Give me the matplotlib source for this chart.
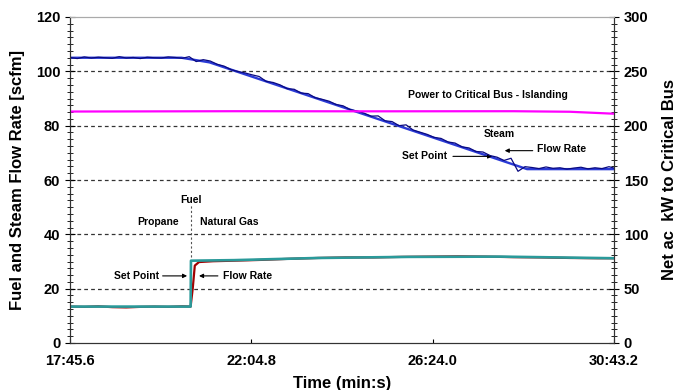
import matplotlib
matplotlib.use("Agg")
import matplotlib.pyplot as plt
from matplotlib.ticker import FixedLocator, MultipleLocator, AutoMinorLocator, FuncFormatter

plt.rcParams['font.family'] = ['Liberation Sans', 'DejaVu Sans']
plt.rcParams['font.weight'] = 'bold'

# time axis in seconds (17:45.6 -> 30:43.2)
t_start = 1065.6
t_end = 1843.2
x_ticks = [1065.6, 1324.8, 1584.0, 1843.2]

# steam flow, measured (scfm), read every 10 s
steam_t = [1066, 1076, 1086, 1096, 1106, 1116, 1126, 1136, 1146, 1156,
           1166, 1176, 1186, 1196, 1206, 1216, 1226, 1236,
           1246, 1256, 1266, 1276, 1286, 1296, 1306, 1316, 1326, 1336,
           1346, 1356, 1366, 1376, 1386, 1396, 1406, 1416, 1426, 1436,
           1446, 1456, 1466, 1476, 1486, 1496, 1506, 1516, 1526, 1536,
           1546, 1556, 1566, 1576, 1586, 1596, 1606, 1616, 1626, 1636,
           1646, 1656, 1666, 1676, 1686, 1696, 1706, 1716,
           1726, 1736, 1746, 1756, 1766, 1776, 1786, 1796, 1806, 1816,
           1826, 1836, 1843]
steam_flow = [105.1, 104.7, 105.3, 104.9, 105.2, 105.0, 104.8, 105.4, 104.9, 105.1,
              104.7, 105.2, 105.0, 104.9, 105.3, 105.1, 104.8, 105.4,
              103.6, 104.3, 103.8, 102.6, 101.9, 100.6, 99.9, 99.4, 98.7, 98.1,
              96.3, 95.9, 95.0, 93.6, 93.4, 92.0, 91.8, 90.3, 89.7, 89.0,
              87.8, 87.3, 85.9, 85.4, 84.6, 83.5, 83.6, 81.8, 81.5, 80.0,
              80.3, 78.4, 77.6, 76.8, 75.7, 75.3, 74.0, 73.6, 72.2, 71.8,
              70.5, 70.3, 69.0, 68.4, 67.2, 68.0, 63.2, 64.9,
              64.6, 64.2, 64.8, 64.3, 64.5, 64.0, 64.4, 64.7, 64.1, 64.5,
              64.2, 64.9, 64.4]

# steam flow set point
steam_sp_t = [1065.6, 1225, 1265, 1719, 1843.2]
steam_sp = [105.0, 105.0, 103.3, 64.0, 64.0]

# fuel flow, measured (scfm)
fuel_t = [1066, 1086, 1106, 1126, 1146, 1166, 1186, 1206, 1226, 1238,
          1241, 1244, 1250, 1270, 1300, 1340, 1380, 1420, 1460, 1500,
          1540, 1580, 1620, 1660, 1700, 1740, 1780, 1820, 1843]
fuel_flow = [13.4, 13.3, 13.5, 13.2, 13.1, 13.3, 13.4, 13.3, 13.5, 13.4,
             20.0, 28.5, 29.8, 30.1, 30.3, 30.6, 31.0, 31.3, 31.5, 31.5,
             31.7, 31.8, 31.9, 31.8, 31.6, 31.5, 31.3, 31.2, 31.2]

# fuel flow set point
fuel_sp_t = [1065.6, 1238, 1238.5, 1300, 1420, 1550, 1680, 1843.2]
fuel_sp = [13.4, 13.4, 30.3, 30.5, 31.3, 31.7, 31.8, 31.2]

# net ac power to critical bus (kW)
power_t = [1065.6, 1300, 1500, 1700, 1780, 1843.2]
power_kw = [213.0, 213.3, 213.2, 213.3, 212.8, 211.0]

fuel_switch = 1238.0


def mmss(t, pos=None):
    m = int(t // 60)
    s = t - 60 * m
    return "%d:%04.1f" % (m, s)


fig = plt.figure(figsize=(6.84, 3.90), dpi=100)
ax = fig.add_axes([70 / 684, 1 - 343 / 390, 544 / 684, 326 / 390])
ax2 = ax.twinx()

ax.set_xlim(t_start, t_end)
ax.set_ylim(0, 120)
ax2.set_ylim(0, 300)

# grid
for g in [20, 40, 60, 80, 100]:
    ax.axhline(g, color='#333333', ls=(0, (3, 2.5)), lw=0.9, zorder=1)
ax.plot([fuel_switch, fuel_switch], [31.5, 51.0], color='#555555',
        ls=(0, (2, 2)), lw=0.8, zorder=1)

ax.plot(steam_sp_t, steam_sp, color='#2a3ad6', lw=1.7, zorder=3)
ax.plot(steam_t, steam_flow, color='#0a0a80', lw=0.9, zorder=4)
ax.plot(fuel_t, fuel_flow, color='#a00000', lw=1.6, zorder=3)
ax.plot(fuel_sp_t, fuel_sp, color='#2a9a9a', lw=1.9, zorder=4)
ax2.plot(power_t, power_kw, color='#ff00ff', lw=1.6)

# axes styling
ax.xaxis.set_major_locator(FixedLocator(x_ticks))
ax.xaxis.set_major_formatter(FuncFormatter(mmss))
ax.yaxis.set_major_locator(MultipleLocator(20))
ax.yaxis.set_minor_locator(AutoMinorLocator(8))
ax2.yaxis.set_major_locator(MultipleLocator(50))
ax2.yaxis.set_minor_locator(AutoMinorLocator(8))

ax.tick_params(axis='x', direction='in', length=3, labelsize=10.5, pad=8)
ax.tick_params(axis='y', which='major', direction='inout', length=7, labelsize=10.5)
ax.tick_params(axis='y', which='minor', direction='inout', length=4)
ax2.tick_params(axis='y', which='major', direction='inout', length=7, labelsize=10.5)
ax2.tick_params(axis='y', which='minor', direction='inout', length=4)
for a in (ax, ax2):
    for lbl in a.get_xticklabels() + a.get_yticklabels():
        lbl.set_fontweight('bold')
    a.spines['top'].set_color('#aaaaaa')
    for side in ['left', 'right', 'bottom']:
        a.spines[side].set_color('#333333')

ax.set_xlabel('Time (min:s)', fontsize=12, fontweight='bold', labelpad=6)
ax.set_ylabel('Fuel and Steam Flow Rate [scfm]', fontsize=12, fontweight='bold', labelpad=8)
ax2.set_ylabel('Net ac  kW to Critical Bus', fontsize=12, fontweight='bold', labelpad=10)

# annotations
fs = 7.5
ax.text(1663, 91.2, 'Power to Critical Bus - Islanding', fontsize=fs,
        fontweight='bold', ha='center', va='center')
ax.text(1679, 76.8, 'Steam', fontsize=fs, fontweight='bold', ha='center', va='center')
ax.text(1733, 71.5, 'Flow Rate', fontsize=fs, fontweight='bold', ha='left', va='center')
ax.annotate('', xy=(1687, 70.8), xytext=(1727, 70.8),
            arrowprops=dict(arrowstyle='-|>', color='black', lw=0.8,
                            mutation_scale=6, shrinkA=0, shrinkB=0))
ax.text(1604, 68.7, 'Set Point', fontsize=fs, fontweight='bold', ha='right', va='center')
ax.annotate('', xy=(1669, 68.7), xytext=(1613, 68.7),
            arrowprops=dict(arrowstyle='-|>', color='black', lw=0.8,
                            mutation_scale=6, shrinkA=0, shrinkB=0))

ax.text(fuel_switch, 52.8, 'Fuel', fontsize=fs, fontweight='bold', ha='center', va='center')
ax.text(1191, 44.7, 'Propane', fontsize=fs, fontweight='bold', ha='center', va='center')
ax.text(1251, 44.7, 'Natural Gas', fontsize=fs, fontweight='bold', ha='left', va='center')
ax.text(1193, 24.7, 'Set Point', fontsize=fs, fontweight='bold', ha='right', va='center')
ax.annotate('', xy=(1233, 24.7), xytext=(1198, 24.7),
            arrowprops=dict(arrowstyle='-|>', color='black', lw=0.8,
                            mutation_scale=6, shrinkA=0, shrinkB=0))
ax.text(1284, 24.7, 'Flow Rate', fontsize=fs, fontweight='bold', ha='left', va='center')
ax.annotate('', xy=(1250, 24.7), xytext=(1277, 24.7),
            arrowprops=dict(arrowstyle='-|>', color='black', lw=0.8,
                            mutation_scale=6, shrinkA=0, shrinkB=0))

fig.savefig('out.png', dpi=100)
